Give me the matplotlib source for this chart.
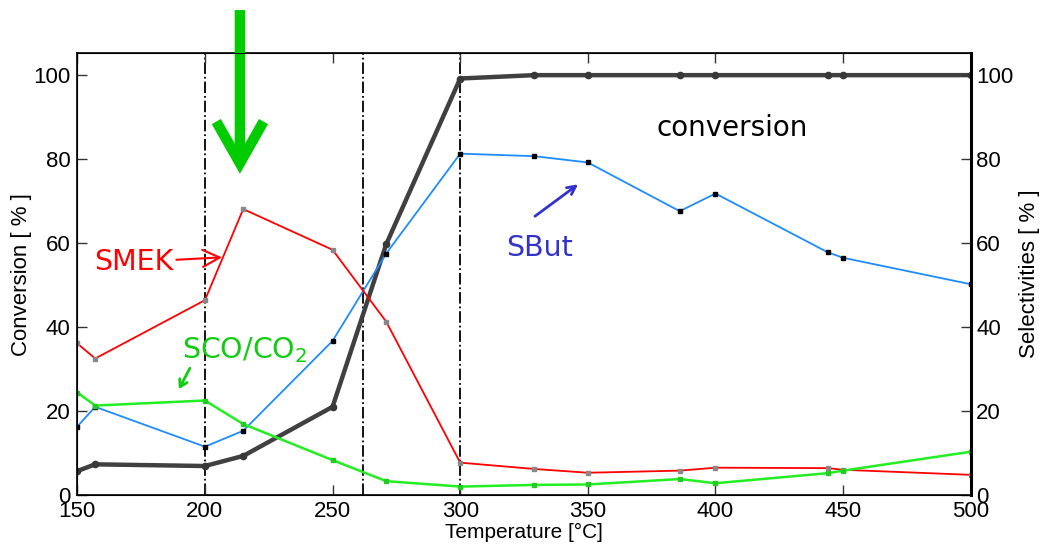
import matplotlib
matplotlib.use("Agg")
import matplotlib.pyplot as plt

# temperatures of the measurement points [°C]
temp = [150, 157, 200, 215, 250, 271, 300, 329, 350, 386, 400, 444, 450, 500]

conversion = [5.7, 7.3, 6.9, 9.3, 21.0, 59.7, 99.2, 100, 100, 100, 100, 100, 100, 100]
s_but = [16.3, 21.0, 11.5, 15.3, 36.7, 57.5, 81.3, 80.7, 79.2, 67.6, 71.8, 57.8, 56.5, 50.2]
s_mek = [36.1, 32.5, 46.4, 68.1, 58.4, 41.3, 7.7, 6.2, 5.3, 5.8, 6.5, 6.4, 6.0, 4.8]
s_co = [24.4, 21.3, 22.5, 16.9, 8.3, 3.3, 2.0, 2.4, 2.5, 3.8, 2.8, 5.2, 5.8, 10.3]

# regime boundaries (dash-dot lines)
boundaries = [200, 262, 300]

x_ticks = [150, 200, 250, 300, 350, 400, 450, 500]
y_ticks = [0, 20, 40, 60, 80, 100]

TICK_FONT = "Liberation Sans"
NOTE_FONT = "DejaVu Sans"

fig = plt.figure(figsize=(10.39, 5.44), dpi=100)
ax = fig.add_axes([0.0744, 0.0901, 0.8599, 0.8119])

for b in boundaries:
    ax.axvline(b, color="black", ls="-.", lw=1.3, zorder=1)

ax.plot(temp, conversion, color="#404040", lw=3.2, marker="o", ms=4.5,
        mfc="#383838", mec="#383838", zorder=3)
ax.plot(temp, s_but, color="#1e8cff", lw=1.3, marker="s", ms=2.2,
        mfc="black", mec="black", zorder=4)
ax.plot(temp, s_mek, color="#ff0000", lw=1.3, marker="s", ms=2.2,
        mfc="#888888", mec="#888888", zorder=4)
ax.plot(temp, s_co, color="#22ee22", lw=1.8, marker="s", ms=2.2,
        mfc="#22cc22", mec="#22cc22", zorder=4)

ax.set_xlim(150, 500)
ax.set_ylim(0, 105.2)
ax.set_xticks(x_ticks)
ax.set_yticks(y_ticks)
ax.tick_params(direction="in", length=7, width=1, top=True, pad=5,
               labelsize=16, colors="#333333", labelcolor="black")
ax.tick_params(axis="x", pad=4)
for lab in ax.get_xticklabels() + ax.get_yticklabels():
    lab.set_fontfamily(TICK_FONT)
ax.set_xlabel("Temperature [°C]", fontsize=15, family=TICK_FONT, labelpad=1)
ax.set_ylabel("Conversion [ % ]", fontsize=16, family=TICK_FONT, labelpad=1)
for s in ax.spines.values():
    s.set_linewidth(1.2)

ax2 = ax.twinx()
ax2.set_ylim(0, 105.2)
ax2.set_yticks(y_ticks)
ax2.tick_params(direction="in", length=7, width=1, pad=4, labelsize=16,
                colors="#333333", labelcolor="black")
for lab in ax2.get_yticklabels():
    lab.set_fontfamily(TICK_FONT)
ax2.set_ylabel("Selectivities [ % ]", fontsize=16, family=TICK_FONT, labelpad=4)
ax2.spines["right"].set_linewidth(2.2)

# annotations
ax.text(406.5, 87.4, "conversion", fontsize=20, family=NOTE_FONT,
        ha="center", va="center")

ax.annotate("SMEK", xy=(206.7, 56.6), xytext=(172.2, 55.5),
            fontsize=20.5, family=NOTE_FONT, color="#ff0000",
            ha="center", va="center",
            arrowprops=dict(arrowstyle="->,head_length=0.6,head_width=0.3",
                            color="#ff0000", lw=1.5, shrinkA=0, shrinkB=0))

ax.annotate("", xy=(346.2, 74.0), xytext=(329.3, 66.4),
            arrowprops=dict(arrowstyle="->,head_length=0.6,head_width=0.3",
                            color="#3333cc", lw=2, shrinkA=0, shrinkB=0))
ax.text(331.2, 58.8, "SBut", fontsize=20.5, family=NOTE_FONT, color="#3333cc",
        ha="center", va="center")

ax.annotate("", xy=(189.8, 25.2), xytext=(194.1, 30.2),
            arrowprops=dict(arrowstyle="->,head_length=0.5,head_width=0.3",
                            color="#11cc11", lw=2, shrinkA=0, shrinkB=0))
ax.text(191.1, 34.5, "SCO/CO$_2$", fontsize=20.5, family=NOTE_FONT,
        color="#11cc11", ha="left", va="center")

ax.annotate("", xy=(213.7, 76.5), xytext=(213.7, 115.5),
            annotation_clip=False,
            arrowprops=dict(arrowstyle="->,head_length=3.0,head_width=1.7",
                            color="#00cc00", lw=7.5, shrinkA=0, shrinkB=0,
                            joinstyle="miter", capstyle="butt"))

fig.savefig("out.png", dpi=100)
